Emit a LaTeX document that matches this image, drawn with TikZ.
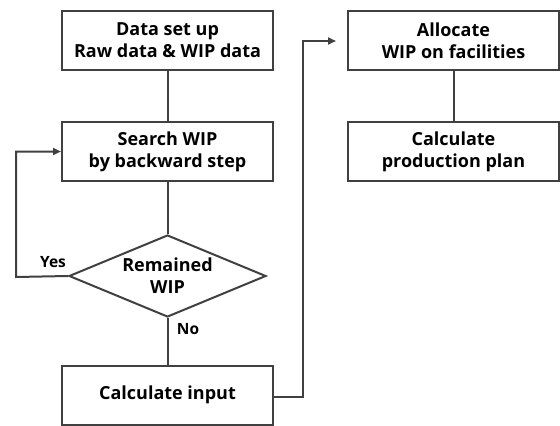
\documentclass[tikz,border=0pt]{standalone}
\usepackage{fontspec}
\setmainfont{Open Sans}[BoldFont={Open Sans Bold}]
\usetikzlibrary{shapes.geometric,arrows.meta}
\definecolor{ln}{HTML}{404040}
\tikzset{
  box/.style={draw=ln, line width=2pt, minimum width=211pt, minimum height=59pt, align=center, font=\bfseries\fontsize{18}{22}\selectfont, inner sep=0pt},
  dia/.style={draw=ln, line width=2pt, diamond, aspect=2.4, minimum width=197pt, minimum height=82pt, align=center, font=\bfseries\fontsize{18}{22}\selectfont, inner sep=0pt},
  conn/.style={draw=ln, line width=2pt},
  arr/.style={conn, -{Triangle[length=8pt,width=7pt]}},
  lab/.style={font=\bfseries\fontsize{15.5}{17}\selectfont, inner sep=0pt}
}
\begin{document}
\begin{tikzpicture}[x=1pt,y=-1pt]
\useasboundingbox (0,0) rectangle (560,426);
\node[box] (b1) at (167.5,40.5) {Data set up\\Raw data \& WIP data};
\node[box] (b2) at (167.5,151.5) {Search WIP\\by backward step};
\node[dia] (d) at (167.5,276) {Remained\\WIP};
\node[box] (b3) at (167.5,395) {Calculate input};
\node[box] (b4) at (453.5,40.5) {Allocate\\WIP on facilities};
\node[box] (b5) at (453.5,151.5) {Calculate\\production plan};
\coordinate (yl) at (16,277);
\coordinate (yt) at (16,151.5);
\coordinate (cr) at (303,397);
\coordinate (ct) at (303,41);
\coordinate (ce) at (336,41);
\draw[conn] (b1.south) -- (b2.north);
\draw[conn] (b2.south) -- (d.north);
\draw[conn] (d.south) -- (b3.north);
\draw[arr] (d.west) -- (yl) -- (yt) -- (b2.west);
\draw[arr] (b3.east |- cr) -- (cr) -- (ct) -- (ce);
\draw[conn] (b4.south) -- (b5.north);
\node[lab] (yes) at (53,262) {Yes};
\node[lab] (no) at (188,329) {No};
\end{tikzpicture}
\end{document}
